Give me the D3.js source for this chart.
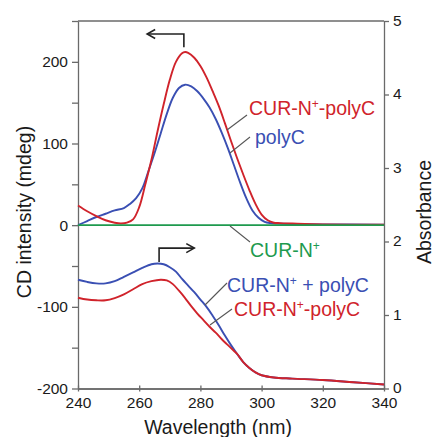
<!DOCTYPE html>
<html>
<head>
<meta charset="utf-8">
<script src="https://cdn.jsdelivr.net/npm/d3@7"></script>
<style>
  html, body { margin: 0; padding: 0; background: #fff; }
  svg { display: block; font-family: "Liberation Sans", Arial, Helvetica, sans-serif; }
</style>
</head>
<body>
<svg id="chart" width="434" height="437"></svg>
<script>
// ---- data ----
const cdRedWl  = [240,243,246,249,252,254,256,258,260,262,264,266,268,270,272,274,275,276,278,280,282,284,286,288,290,292,294,296,298,300,302,304,306,310,320,340];
const cdRedVal = [24,17,11,6,3,2,3,7,22,50,80,115,148,178,200,210.5,212,211,205,195,181,164,146,125,103,82,62,43,26,13,6,3,2.5,2,1,0.5];

const cdBlueWl  = [240,243,246,249,252,255,257,259,261,263,265,267,269,271,273,275,277,279,281,283,285,287,289,291,293,295,297,299,301,303,305,310,320,340];
const cdBlueVal = [0,5,10,14,18,21,26,33,45,66,88,112,136,156,168,172,170,164,155,144,130,113,94,73,52,33,18,9,4,2.5,2,1.5,1,0.5];

const cdGreenWl  = [240,260,280,300,320,340];
const cdGreenVal = [0,0,0,0,0,0];

const absBlueWl  = [240,243,246,249,252,255,258,261,264,266,268,270,272,274,276,278,280,282,284,286,288,290,292,294,296,298,300,304,310,320,330,340];
const absBlueVal = [1.48,1.45,1.43,1.43,1.46,1.52,1.58,1.64,1.69,1.70,1.69,1.65,1.59,1.49,1.40,1.31,1.21,1.11,0.99,0.86,0.72,0.59,0.47,0.36,0.28,0.22,0.18,0.15,0.135,0.115,0.085,0.055];

const absRedWl  = [240,243,246,249,252,255,258,261,264,267,269,271,273,275,277,279,281,283,285,287,289,291,292,294,296,298,300,304,310,320,330,340];
const absRedVal = [1.235,1.21,1.20,1.20,1.23,1.28,1.35,1.42,1.46,1.48,1.47,1.42,1.33,1.23,1.12,1.02,0.93,0.84,0.76,0.67,0.59,0.51,0.47,0.36,0.28,0.22,0.18,0.15,0.135,0.115,0.085,0.055];

const xTicks = [240,260,280,300,320,340];
const yLeftTicks = [-200,-150,-100,-50,0,50,100,150,200,250];
const yLeftLabels = [-200,-100,0,100,200];
const yRightTicks = [0,1,2,3,4,5];

const labelTexts = [
  {parts:["CUR-N","+","-polyC"], color:"#d0232b"},
  {parts:["polyC"], color:"#3a4fb3"},
  {parts:["CUR-N","+"], color:"#1e9a4e"},
  {parts:["CUR-N","+"," + polyC"], color:"#3a4fb3"},
  {parts:["CUR-N","+","-polyC"], color:"#d0232b"}
];

// ---- layout ----
const RED = "#d0232b", BLUE = "#3a4fb3", GREEN = "#1e9a4e", AX = "#6a6a6a", TXT = "#1a1a1a";
const svg = d3.select("#chart");
const x = d3.scaleLinear().domain([240,340]).range([78,384]);
const yL = d3.scaleLinear().domain([-200,250]).range([388.5,21]);
const yR = d3.scaleLinear().domain([0,5]).range([388.5,21]);
const fmt = d => String(d);

// frame top line
svg.append("line").attr("x1",78).attr("x2",384).attr("y1",yL(250)).attr("y2",yL(250))
  .attr("stroke",AX).attr("stroke-width",1.3);

// left axis
const gL = svg.append("g").attr("transform","translate(78,0)")
  .call(d3.axisLeft(yL).tickValues(yLeftTicks).tickSize(6).tickSizeOuter(0).tickPadding(4)
    .tickFormat(d => yLeftLabels.includes(d) ? fmt(d) : ""));
// right axis
const gR = svg.append("g").attr("transform","translate(384,0)")
  .call(d3.axisRight(yR).tickValues(yRightTicks).tickSize(5).tickSizeOuter(0).tickPadding(4).tickFormat(fmt));
// bottom axis (outer part + labels)
const gB = svg.append("g").attr("transform","translate(0,388.5)")
  .call(d3.axisBottom(x).tickValues(xTicks).tickSize(3).tickSizeOuter(0).tickPadding(6).tickFormat(fmt));
// inner part of bottom ticks
const gB2 = svg.append("g").attr("transform","translate(0,388.5)")
  .call(d3.axisBottom(x).tickValues(xTicks).tickSize(-3).tickSizeOuter(0).tickFormat(""));

[gL,gR,gB,gB2].forEach(g => {
  g.select(".domain").attr("stroke",AX).attr("stroke-width",1.3);
  g.selectAll(".tick line").attr("stroke",AX).attr("stroke-width",1.3);
  g.selectAll(".tick text").attr("fill",TXT).style("font-size","15.5px")
    .style("font-family","'Liberation Sans', Arial, Helvetica, sans-serif");
});
gR.selectAll(".tick text").attr("dy","0.28em");
gB.selectAll(".tick text").attr("dy","0.68em");

// axis titles
svg.append("text").attr("transform","translate(31,212) rotate(-90)").attr("text-anchor","middle")
  .attr("fill",TXT).style("font-size","19.5px").text("CD intensity (mdeg)");
svg.append("text").attr("transform","translate(431,212) rotate(-90)").attr("text-anchor","middle")
  .attr("fill",TXT).style("font-size","19.5px").text("Absorbance");
svg.append("text").attr("x",218).attr("y",434).attr("text-anchor","middle")
  .attr("fill",TXT).style("font-size","19.5px").text("Wavelength (nm)");

// lines
const mk = (wl, val, ys) => wl.map((w,i) => [x(w), ys(val[i])]);
const line = d3.line().curve(d3.curveCatmullRom.alpha(0.5));
const drawLine = (pts, color) => svg.append("path").attr("d", line(pts))
  .attr("fill","none").attr("stroke",color).attr("stroke-width",1.9).attr("stroke-linejoin","round");

drawLine(mk(cdBlueWl, cdBlueVal, yL), BLUE);
drawLine(mk(cdRedWl, cdRedVal, yL), RED);
drawLine(mk(cdGreenWl, cdGreenVal, yL), GREEN);
drawLine(mk(absBlueWl, absBlueVal, yR), BLUE);
drawLine(mk(absRedWl, absRedVal, yR), RED);

// arrows
const ARW = "#222";
function arrow(px, yStart, yTurn, xEnd) {
  const dir = xEnd > px ? 1 : -1;
  svg.append("path").attr("d", `M${px},${yStart}V${yTurn}H${xEnd}`)
    .attr("fill","none").attr("stroke",ARW).attr("stroke-width",1.6);
  svg.append("path").attr("d", `M${xEnd - dir*8},${yTurn-4.5}L${xEnd},${yTurn}L${xEnd - dir*8},${yTurn+4.5}`)
    .attr("fill","none").attr("stroke",ARW).attr("stroke-width",1.6);
}
arrow(x(274.6), yL(218), yL(234), x(262.6));
arrow(x(266.5), yR(1.72), yR(1.91), x(278));

// leader lines and labels
const leaders = [[227,130,247,115],[230,153,250,137],[230,226,250,242],[205,305,227,283],[210,325,232,309]];
leaders.forEach(l => svg.append("line").attr("x1",l[0]).attr("y1",l[1]).attr("x2",l[2]).attr("y2",l[3])
  .attr("stroke","#555").attr("stroke-width",1.1));
const labelPos = [[249,115],[255,144],[250,257],[227,292],[234,316]];
labelTexts.forEach((lab,i) => {
  const t = svg.append("text").attr("x",labelPos[i][0]).attr("y",labelPos[i][1])
    .attr("fill",lab.color).style("font-size","19.5px");
  let shifted = false;
  lab.parts.forEach(p => {
    if (p === "+") {
      t.append("tspan").attr("dy",-7).style("font-size","12px").text("+");
      shifted = true;
    } else {
      const s = t.append("tspan").text(p);
      if (shifted) { s.attr("dy",7); shifted = false; }
    }
  });
});
</script>
</body>
</html>
